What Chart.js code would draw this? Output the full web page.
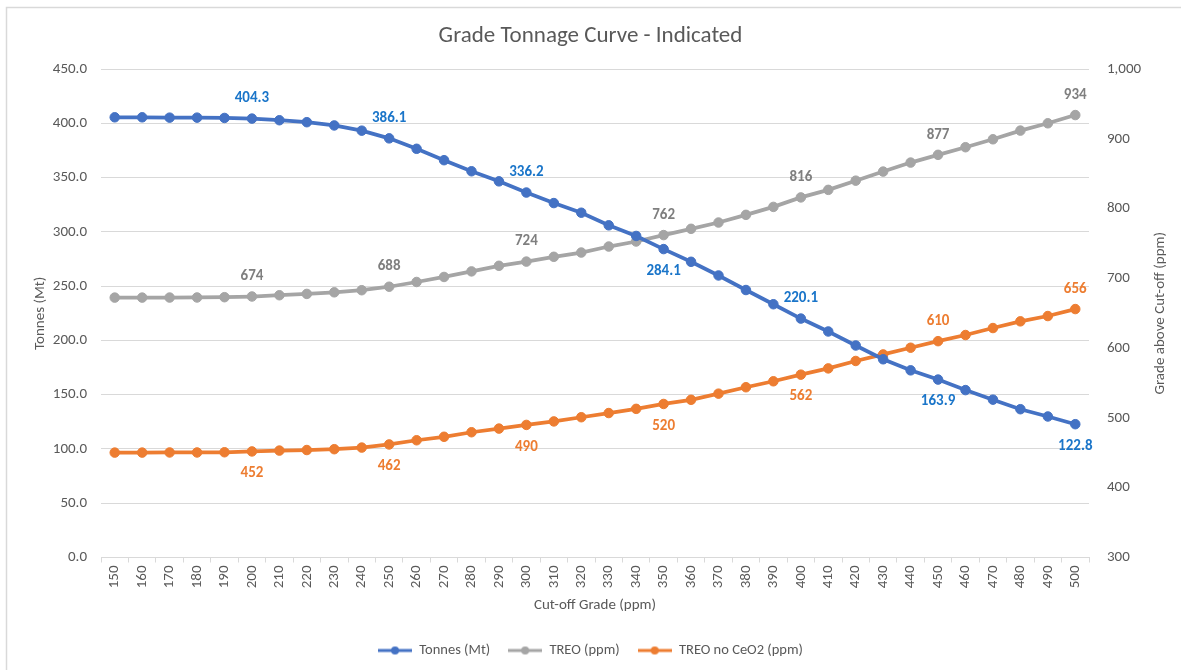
<!DOCTYPE html>
<html>
<head>
<meta charset="utf-8">
<title>Grade Tonnage Curve - Indicated</title>
<script src="https://cdn.jsdelivr.net/npm/chart.js@4.4.1/dist/chart.umd.min.js"></script>
<style>
    html, body { margin: 0; padding: 0; background: #fff; }
    #wrap { width: 1181px; height: 670px; position: relative; }
</style>
</head>
<body>
<div id="wrap"><canvas id="chart"></canvas></div>
<script>
// ===============================
// DATA
// ===============================
const cutoffGrades = [150, 160, 170, 180, 190, 200, 210, 220, 230, 240, 250, 260, 270, 280, 290, 300, 310, 320,
    330, 340, 350, 360, 370, 380, 390, 400, 410, 420, 430, 440, 450, 460, 470, 480, 490, 500];

const tonnes = [405.5, 405.5, 405.2, 405.2, 404.9, 404.3, 402.8, 401.0, 398.0, 393.2, 386.1, 376.5, 366.0, 355.8,
    346.5, 336.2, 326.5, 317.6, 306.0, 296.2, 284.1, 272.4, 259.8, 246.4, 233.3, 220.1, 208.2, 195.3, 182.6,
    172.4, 163.9, 154.2, 145.4, 136.6, 129.9, 122.8];

const treo = [672.4, 672.4, 672.5, 672.6, 673.0, 674, 675.8, 677.7, 680, 683, 688, 694.8, 702, 710, 718, 724,
    730.9, 737, 745.6, 752.8, 762, 771, 780, 791, 802.4, 816, 826.8, 840, 853, 865.9, 877, 887.9, 899.3, 911.7,
    922.2, 934];

const treoNoCeO2 = [450.3, 450.3, 450.5, 450.5, 450.8, 452, 453.2, 454, 455.2, 457.5, 462, 468, 473, 479.5, 484.7,
    490, 495, 501, 507, 513, 520, 526, 534.8, 544, 552.5, 562, 571, 581.6, 591, 600.6, 610, 618.8, 628.8, 638.4,
    646, 656];

const leftTicks = [0, 50, 100, 150, 200, 250, 300, 350, 400, 450];
const rightTicks = [300, 400, 500, 600, 700, 800, 900, 1000];

// which points carry a value label
const labelIndex = [5, 10, 15, 20, 25, 30, 35];

// ===============================
// STYLE
// ===============================
const FONT = 'Carlito, Lato, "Liberation Sans", sans-serif';
const TXT = '#595959';
const GRID = '#d9d9d9';
const FS = 15;

const seriesStyle = [
    { name: 'Tonnes (Mt)', color: '#4472c4', labelColor: '#1a75c9', axis: 'y',
      labelPos: ['above', 'above', 'above', 'below', 'above', 'below', 'below'], digits: 1 },
    { name: 'TREO (ppm)', color: '#a5a5a5', labelColor: '#7f7f7f', axis: 'y2',
      labelPos: ['above', 'above', 'above', 'above', 'above', 'above', 'above'], digits: 0 },
    { name: 'TREO no CeO2 (ppm)', color: '#ed7d31', labelColor: '#ed7d31', axis: 'y2',
      labelPos: ['below', 'below', 'below', 'below', 'below', 'above', 'above'], digits: 0 }
];
const seriesData = [tonnes, treo, treoNoCeO2];

// legend marker: line with a dot
function legendIcon(color) {
    const c = document.createElement('canvas');
    c.width = 34;
    c.height = 10;
    const g = c.getContext('2d');
    g.strokeStyle = color;
    g.lineWidth = 3;
    g.beginPath();
    g.moveTo(0, 5);
    g.lineTo(34, 5);
    g.stroke();
    g.fillStyle = color;
    g.beginPath();
    g.arc(17, 5, 4, 0, Math.PI * 2);
    g.fill();
    return c;
}

// ===============================
// PLUGINS
// ===============================
const frame = {
    id: 'frame',
    beforeDraw(chart) {
        const ctx = chart.ctx;
        ctx.save();
        ctx.fillStyle = '#fff';
        ctx.fillRect(0, 0, chart.width, chart.height);
        ctx.strokeStyle = GRID;
        ctx.lineWidth = 1.5;
        ctx.beginPath();
        ctx.moveTo(6.5, chart.height);
        ctx.lineTo(6.5, 7.5);
        ctx.lineTo(chart.width, 7.5);
        ctx.stroke();
        ctx.restore();
    },
    afterDraw(chart) {
        // right axis title reads bottom-to-top like the left one
        const ctx = chart.ctx;
        const area = chart.chartArea;
        ctx.save();
        ctx.translate(1160, (area.top + area.bottom) / 2);
        ctx.rotate(-Math.PI / 2);
        ctx.font = FS + 'px ' + FONT;
        ctx.fillStyle = TXT;
        ctx.textAlign = 'center';
        ctx.textBaseline = 'middle';
        ctx.fillText('Grade above Cut-off (ppm)', 0, 0);
        ctx.restore();
    }
};

const valueLabels = {
    id: 'valueLabels',
    afterDatasetsDraw(chart) {
        const ctx = chart.ctx;
        ctx.save();
        ctx.font = 'bold ' + FS + 'px ' + FONT;
        ctx.textAlign = 'center';
        ctx.textBaseline = 'middle';
        chart.data.datasets.forEach((ds, d) => {
            const meta = chart.getDatasetMeta(d);
            const st = seriesStyle[d];
            labelIndex.forEach((idx, k) => {
                const pt = meta.data[idx];
                const dy = st.labelPos[k] === 'above' ? -20 : 22;
                ctx.fillStyle = st.labelColor;
                ctx.fillText(ds.data[idx].toFixed(st.digits), pt.x, pt.y + dy);
            });
        });
        ctx.restore();
    }
};

// ===============================
// CHART
// ===============================
const ctx = document.getElementById('chart').getContext('2d');

const chart = new Chart(ctx, {
    type: 'line',
    data: {
        labels: cutoffGrades,
        datasets: seriesStyle.map((s, i) => ({
            label: s.name,
            data: seriesData[i],
            yAxisID: s.axis,
            borderColor: s.color,
            backgroundColor: s.color,
            borderWidth: 3.75,
            pointRadius: 4.75,
            pointBackgroundColor: s.color,
            pointBorderColor: s.color,
            pointBorderWidth: 1,
            tension: 0,
            fill: false
        }))
    },
    options: {
        responsive: true,
        maintainAspectRatio: false,
        animation: false,
        layout: {
            padding: { left: 0, right: 0, top: 0, bottom: 2.25 }
        },
        plugins: {
            title: {
                display: true,
                text: 'Grade Tonnage Curve - Indicated',
                color: TXT,
                font: { family: FONT, size: 23, weight: 'normal' },
                padding: { top: 22.5, bottom: 18.9 }
            },
            legend: {
                position: 'bottom',
                labels: {
                    color: TXT,
                    font: { family: FONT, size: 14.5 },
                    usePointStyle: true,
                    pointStyleWidth: 34,
                    padding: 18,
                    generateLabels(chart) {
                        const items = Chart.defaults.plugins.legend.labels.generateLabels(chart);
                        items.forEach((it, i) => {
                            it.pointStyle = legendIcon(seriesStyle[i].color);
                        });
                        return items;
                    }
                }
            },
            tooltip: { enabled: false }
        },
        scales: {
            x: {
                type: 'category',
                offset: true,
                grid: {
                    display: true,
                    offset: true,
                    drawOnChartArea: false,
                    drawTicks: true,
                    tickLength: 5,
                    color: GRID
                },
                border: { display: true, color: GRID, width: 1 },
                ticks: {
                    color: TXT,
                    font: { family: FONT, size: FS },
                    minRotation: 90,
                    maxRotation: 90,
                    autoSkip: false,
                    padding: 3
                },
                title: {
                    display: true,
                    text: 'Cut-off Grade (ppm)',
                    color: TXT,
                    font: { family: FONT, size: FS },
                    padding: { top: 0, bottom: 10.75 }
                },
                afterFit(scale) { scale.height = 67.75; }
            },
            y: {
                position: 'left',
                min: 0,
                max: 450,
                afterBuildTicks(scale) { scale.ticks = leftTicks.map(v => ({ value: v })); },
                grid: { color: GRID, lineWidth: 1, drawTicks: false },
                border: { display: false },
                ticks: {
                    color: TXT,
                    font: { family: FONT, size: FS },
                    padding: 14,
                    callback: v => v.toFixed(1)
                },
                title: {
                    display: true,
                    text: 'Tonnes (Mt)',
                    color: TXT,
                    font: { family: FONT, size: FS },
                    padding: { top: 31, bottom: 0 }
                },
                afterFit(scale) { scale.width = 101; }
            },
            y2: {
                position: 'right',
                min: 300,
                max: 1000,
                afterBuildTicks(scale) { scale.ticks = rightTicks.map(v => ({ value: v })); },
                grid: { drawOnChartArea: false, drawTicks: false },
                border: { display: false },
                ticks: {
                    color: TXT,
                    font: { family: FONT, size: FS },
                    padding: 18,
                    callback: v => v.toLocaleString('en-US')
                },
                afterFit(scale) { scale.width = 92; }
            }
        }
    },
    plugins: [frame, valueLabels]
});
</script>
</body>
</html>
